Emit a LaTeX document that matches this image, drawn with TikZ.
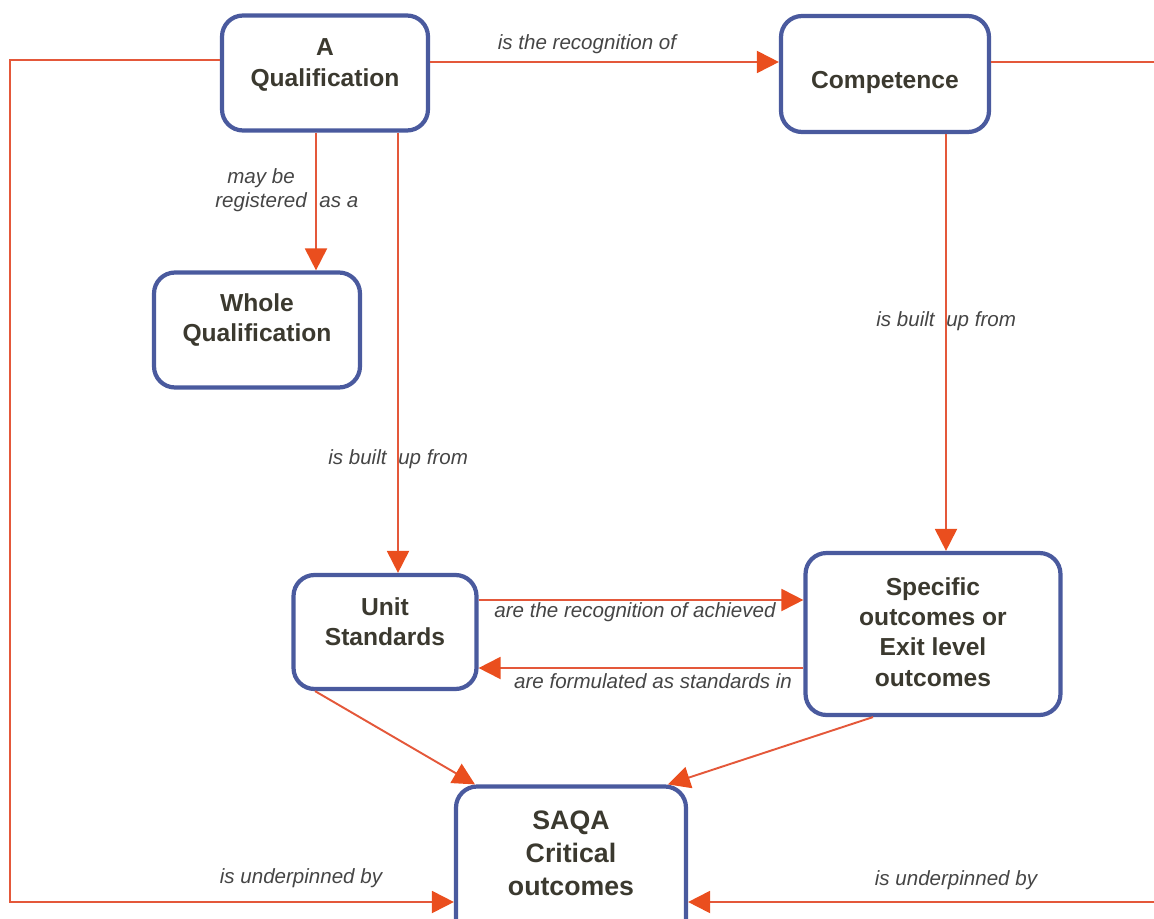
\documentclass[tikz,border=0pt]{standalone}
\usepackage{fontspec}
\setmainfont{Liberation Sans}
\usetikzlibrary{arrows.meta}
\definecolor{boxblue}{HTML}{4A5A9E}
\definecolor{linkred}{HTML}{E4583A}
\definecolor{tipred}{HTML}{EA4E1E}
\definecolor{boxtext}{HTML}{3B392F}
\definecolor{labeltext}{HTML}{454545}
\begin{document}
\begin{tikzpicture}[x=0.02cm,y=-0.02cm,
  box/.style={draw=boxblue, line width=2.4pt, rounded corners=0.42cm, inner sep=0pt},
  boxlabel/.style={text=boxtext, font=\bfseries\fontsize{14}{17.2}\selectfont, align=center, inner sep=0pt},
  biglabel/.style={boxlabel, font=\bfseries\fontsize{15.2}{18.7}\selectfont},
  linklabel/.style={text=labeltext, font=\itshape\fontsize{11.7}{13.6}\selectfont, inner sep=0pt},
  conn/.style={draw=linkred, line width=1.1pt},
  arr/.style={conn, -{Triangle[length=0.44cm,width=0.44cm,color=tipred]}}
]
\useasboundingbox (0,0) rectangle (1154,919);
\clip (0,0) rectangle (1154,919);

% boxes
\node[box, minimum width=4.12cm, minimum height=2.3cm] (q) at (325,73) {};
\node[boxlabel] (qt) at (325,65) {A\\Qualification};
\node[box, minimum width=4.16cm, minimum height=2.32cm] (c) at (885,74) {};
\node[boxlabel] (ct) at (885,82) {Competence};
\node[box, minimum width=4.12cm, minimum height=2.3cm] (w) at (257,330) {};
\node[boxlabel] (wt) at (257,320) {Whole\\Qualification};
\node[box, minimum width=3.66cm, minimum height=2.28cm] (u) at (385,632) {};
\node[boxlabel] (ut) at (385,622) {Unit\\Standards};
\node[box, minimum width=5.1cm, minimum height=3.24cm] (s) at (933,634) {};
\node[boxlabel] (st) at (933,632) {Specific\\outcomes or\\Exit level\\outcomes};
\node[box, minimum width=4.6cm, minimum height=3.1cm] (k) at (571,864) {};
\node[biglabel] (kt) at (571,853) {SAQA\\Critical\\outcomes};

% routing points
\coordinate (toprow) at (600,62);
\coordinate (leftcol) at (10,60);
\coordinate (leftbot) at (10,902);
\coordinate (rtop) at (1154,62);
\coordinate (rbot) at (1154,902);
\coordinate (wcol) at (316,0);
\coordinate (ucol) at (398,0);
\coordinate (scol) at (946,0);
\coordinate (fwd) at (0,600);
\coordinate (back) at (0,668);
\coordinate (ubot) at (315,0);
\coordinate (sbot) at (873,0);
\coordinate (kl) at (475,0);
\coordinate (kr) at (668,0);

% connectors
\draw[arr] (q.east |- toprow) -- (c.west |- toprow);
\draw[conn] (c.east |- toprow) -- (rtop);
\draw[arr] (rbot) -- (k.east |- rbot);
\draw[arr] (q.west |- leftcol) -- (leftcol) -- (leftbot) -- (k.west |- leftbot);
\draw[arr] (q.south -| wcol) -- (w.north -| wcol);
\draw[arr] (q.south -| ucol) -- (u.north -| ucol);
\draw[arr] (c.south -| scol) -- (s.north -| scol);
\draw[arr] (u.east |- fwd) -- (s.west |- fwd);
\draw[arr] (s.west |- back) -- (u.east |- back);
\draw[arr] (u.south -| ubot) -- (k.north -| kl);
\draw[arr] (s.south -| sbot) -- (k.north -| kr);

% connector labels
\node[linklabel] (l1) at (587,44) {is the recognition of};
\node[linklabel, align=left, anchor=west] (l2) at (215,190) {\hspace*{0.24cm}may be\\registered\hspace{0.14cm} as a};
\node[linklabel, anchor=west] (l3) at (328,459) {is built\hspace{0.12cm} up from};
\node[linklabel, anchor=west] (l4) at (876,321) {is built\hspace{0.12cm} up from};
\node[linklabel] (l5) at (635,612) {are the recognition of achieved};
\node[linklabel] (l6) at (653,681) {are formulated as standards in};
\node[linklabel] (l7) at (301,878) {is underpinned by};
\node[linklabel] (l8) at (956,880) {is underpinned by};
\end{tikzpicture}
\end{document}
